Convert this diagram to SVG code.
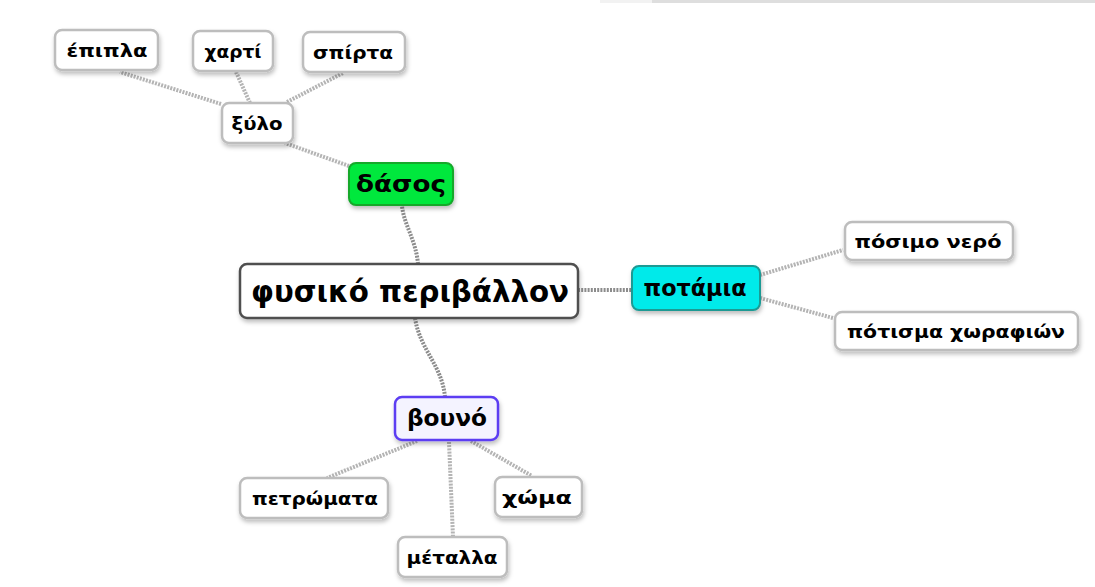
<svg xmlns="http://www.w3.org/2000/svg" width="1095" height="587" viewBox="0 0 1095 587">
<defs>
<filter id="sh" x="-20%" y="-30%" width="140%" height="170%">
<feDropShadow dx="1" dy="3" stdDeviation="2" flood-color="#000" flood-opacity="0.25"/>
</filter>
<style>
.leaf{fill:#fff;stroke:#bdbdbd;stroke-width:2.5;filter:url(#sh)}
.root{fill:#fff;stroke:#505050;stroke-width:2.5;filter:url(#sh)}
.t{font-family:"DejaVu Sans","Noto Sans",sans-serif;font-weight:bold;fill:#000;text-anchor:middle;dominant-baseline:central}
.s{font-size:18px}
.m{font-size:23px}
.l{font-size:30px}
.c{fill:none;stroke:#b4b4b4;stroke-width:4;stroke-dasharray:2 1.2}
.cd{fill:none;stroke:#8c8c8c;stroke-width:4;stroke-dasharray:2 1.2}
</style>
</defs>
<rect x="600" y="0" width="52" height="3" fill="#f2f2f2"/>
<rect x="652" y="0" width="443" height="3" fill="#dedede"/>
<g id="connectors">
<path class="cd" d="M418,264 C416,240 404,225 402,206"/>
<path class="cd" d="M578,290 L632,290"/>
<path class="cd" d="M415,318 C420,350 442,365 445,397"/>
<path class="c" d="M349,166 L285,143"/>
<path class="c" d="M221,104 L120,72"/>
<path class="c" d="M250,103 L236,72"/>
<path class="c" d="M287,102 L343,73"/>
<path class="c" d="M760,275 L843,250"/>
<path class="c" d="M760,298 L833,318"/>
<path class="c" d="M417,441 L327,478"/>
<path class="c" d="M449,442 L453,537"/>
<path class="c" d="M471,441 L532,476"/>
</g>
<g id="n-root"><rect class="root" x="240" y="264" width="338" height="54" rx="7"/><text class="t l" x="410" y="291" textLength="318" lengthAdjust="spacingAndGlyphs">φυσικό περιβάλλον</text></g>
<g id="n-dasos"><rect x="349" y="163" width="104" height="42" rx="7" fill="#00e83c" stroke="#15a82a" stroke-width="2" filter="url(#sh)"/><text class="t m" x="401" y="184" textLength="90" lengthAdjust="spacingAndGlyphs">δάσος</text></g>
<g id="n-potamia"><rect x="632" y="266" width="128" height="44" rx="7" fill="#00eaea" stroke="#1a9a94" stroke-width="2" filter="url(#sh)"/><text class="t m" x="695" y="288" textLength="103" lengthAdjust="spacingAndGlyphs">ποτάμια</text></g>
<g id="n-vouno"><rect x="395" y="397" width="103" height="43" rx="7" fill="#f4f3ff" stroke="#5b3cf2" stroke-width="2.5" filter="url(#sh)"/><text class="t m" x="447" y="418" textLength="80" lengthAdjust="spacingAndGlyphs">βουνό</text></g>
<g id="n-xylo"><rect class="leaf" x="222" y="103" width="71" height="40" rx="7"/><text class="t s" x="257" y="123" textLength="51" lengthAdjust="spacingAndGlyphs">ξύλο</text></g>
<g id="n-epipla"><rect class="leaf" x="55" y="30" width="103" height="40" rx="7"/><text class="t s" x="107" y="50" textLength="81" lengthAdjust="spacingAndGlyphs">έπιπλα</text></g>
<g id="n-xarti"><rect class="leaf" x="193" y="31" width="80" height="40" rx="7"/><text class="t s" x="233" y="51" textLength="57" lengthAdjust="spacingAndGlyphs">χαρτί</text></g>
<g id="n-spirta"><rect class="leaf" x="303" y="32" width="102" height="40" rx="7"/><text class="t s" x="353" y="52" textLength="80" lengthAdjust="spacingAndGlyphs">σπίρτα</text></g>
<g id="n-posimo"><rect class="leaf" x="845" y="222" width="168" height="38" rx="7"/><text class="t s" x="928" y="241" textLength="147" lengthAdjust="spacingAndGlyphs">πόσιμο νερό</text></g>
<g id="n-potisma"><rect class="leaf" x="835" y="312" width="243" height="38" rx="7"/><text class="t s" x="956" y="331" textLength="218" lengthAdjust="spacingAndGlyphs">πότισμα χωραφιών</text></g>
<g id="n-petromata"><rect class="leaf" x="240" y="478" width="148" height="40" rx="7"/><text class="t s" x="315" y="498" textLength="126" lengthAdjust="spacingAndGlyphs">πετρώματα</text></g>
<g id="n-xoma"><rect class="leaf" x="495" y="477" width="87" height="40" rx="7"/><text class="t s" x="537" y="497" textLength="70" lengthAdjust="spacingAndGlyphs">χώμα</text></g>
<g id="n-metalla"><rect class="leaf" x="398" y="537" width="109" height="40" rx="7"/><text class="t s" x="452" y="557" textLength="91" lengthAdjust="spacingAndGlyphs">μέταλλα</text></g>
</svg>
